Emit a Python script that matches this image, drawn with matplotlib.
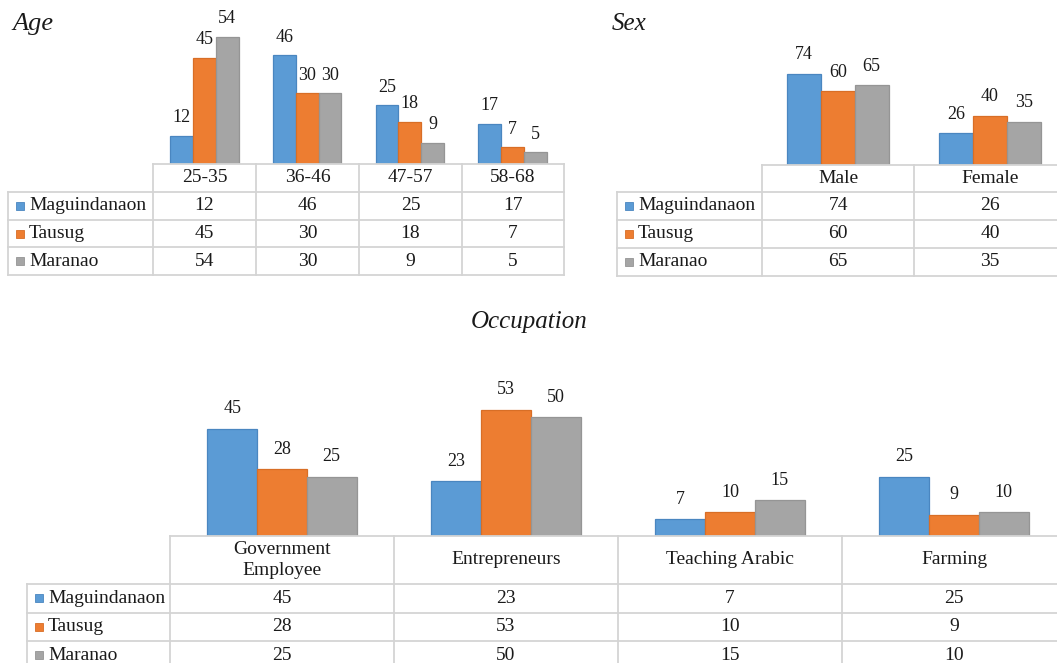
import matplotlib
matplotlib.use("Agg")
import matplotlib.pyplot as plt
from matplotlib.patches import Rectangle

# ---------------- data ----------------
series = ["Maguindanaon", "Tausug", "Maranao"]
colors = ["#5B9BD5", "#ED7D31", "#A5A5A5"]
edges = ["#4A86C0", "#D86E26", "#959595"]

age_cats = ["25-35", "36-46", "47-57", "58-68"]
age_maguindanaon = [12, 46, 25, 17]
age_tausug = [45, 30, 18, 7]
age_maranao = [54, 30, 9, 5]

sex_cats = ["Male", "Female"]
sex_maguindanaon = [74, 26]
sex_tausug = [60, 40]
sex_maranao = [65, 35]

occ_cats = ["Government\nEmployee", "Entrepreneurs", "Teaching Arabic", "Farming"]
occ_maguindanaon = [45, 23, 7, 25]
occ_tausug = [28, 53, 10, 9]
occ_maranao = [25, 50, 15, 10]

# ---------------- layout ----------------
W, H = 1057, 663
FONT = "Liberation Serif"
GRID = "#D4D4D4"
TXT = "#1a1a1a"

fig = plt.figure(figsize=(W / 100, H / 100), dpi=100)
fig.patch.set_facecolor("white")

over = fig.add_axes([0, 0, 1, 1])
over.set_xlim(0, W)
over.set_ylim(H, 0)
over.axis("off")
over.set_zorder(5)
over.patch.set_alpha(0)


def panel(cats, values, left_x, col_x, header_top, header_bottom, row_h,
          ppu, ymax, label_off, title=None, title_xy=None, title_ha="left",
          title_size=18):
    n = len(cats)
    x0, x1 = col_x[0], col_x[-1]
    base = header_top
    height = ymax * ppu
    ax = fig.add_axes([x0 / W, 1 - base / H, (x1 - x0) / W, height / H])
    ax.set_xlim(-0.5, n - 0.5)
    ax.set_ylim(0, ymax)
    ax.axis("off")
    w = 0.222
    for j, vals in enumerate(values):
        xs = [i + (j - 1) * w for i in range(n)]
        ax.bar(xs, vals, width=w, color=colors[j], edgecolor=edges[j],
               linewidth=0.9, zorder=2)
        for xx, v in zip(xs, vals):
            ax.annotate(str(v), (xx, v), xytext=(0, label_off * 0.72),
                        textcoords="offset points", ha="center", va="center",
                        fontsize=13, family=FONT, color=TXT,
                        annotation_clip=False)
    # table
    nrows = len(values)
    bottom = header_bottom + nrows * row_h
    lw = 1.3
    over.plot([x0, x1], [header_top, header_top], color=GRID, lw=lw)
    for r in range(nrows + 1):
        y = header_bottom + r * row_h
        over.plot([left_x, x1], [y, y], color=GRID, lw=lw)
    over.plot([left_x, left_x], [header_bottom, bottom], color=GRID, lw=lw)
    for cx in col_x:
        over.plot([cx, cx], [header_top, bottom], color=GRID, lw=lw)
    for i, c in enumerate(cats):
        cxm = (col_x[i] + col_x[i + 1]) / 2
        over.text(cxm, (header_top + header_bottom) / 2, c, ha="center",
                  va="center", fontsize=14, family=FONT, color=TXT,
                  linespacing=1.3)
    for r, (name, vals) in enumerate(zip(series, values)):
        yc = header_bottom + (r + 0.5) * row_h
        sq = 8
        over.add_patch(Rectangle((left_x + 8, yc - sq / 2), sq, sq,
                                 facecolor=colors[r], edgecolor=edges[r],
                                 lw=0.6))
        over.text(left_x + 21, yc, name, ha="left", va="center",
                  fontsize=14, family=FONT, color=TXT)
        for i, v in enumerate(vals):
            cxm = (col_x[i] + col_x[i + 1]) / 2
            over.text(cxm, yc, str(v), ha="center", va="center",
                      fontsize=14, family=FONT, color=TXT)
    if title:
        over.text(title_xy[0], title_xy[1], title, ha=title_ha, va="center",
                  fontsize=title_size, family=FONT, style="italic", color=TXT)
    return ax


panel(age_cats, [age_maguindanaon, age_tausug, age_maranao],
      left_x=8, col_x=[153, 256, 359, 462, 564],
      header_top=164, header_bottom=192, row_h=27.7,
      ppu=2.36, ymax=65, label_off=18, title="Age", title_xy=(12, 24),
      title_size=19)

panel(sex_cats, [sex_maguindanaon, sex_tausug, sex_maranao],
      left_x=617, col_x=[762, 914, 1066],
      header_top=165, header_bottom=192, row_h=28,
      ppu=1.23, ymax=120, label_off=19, title="Sex", title_xy=(612, 24),
      title_size=18)

panel(occ_cats, [occ_maguindanaon, occ_tausug, occ_maranao],
      left_x=27, col_x=[170, 394, 618, 842, 1066],
      header_top=536, header_bottom=584, row_h=28.5,
      ppu=2.378, ymax=70, label_off=20, title="Occupation",
      title_xy=(529, 322), title_ha="center", title_size=18)

fig.savefig("out.png", dpi=100, facecolor="white")
